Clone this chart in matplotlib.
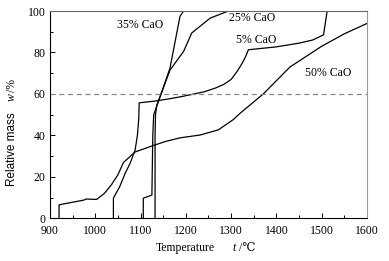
import matplotlib
matplotlib.use("Agg")
import matplotlib.pyplot as plt
from matplotlib.ticker import MultipleLocator

# 50% CaO
t50 = [920, 920, 975, 980, 1003, 1020, 1035, 1050, 1062, 1088, 1120, 1154, 1187, 1232, 1272, 1304, 1320, 1371, 1430, 1500, 1550, 1600]
w50 = [0, 6.5, 8.8, 9.3, 9.1, 12, 16, 21, 26.9, 32, 34.5, 37, 38.8, 40.2, 42.7, 47.5, 50.7, 60, 73, 83, 89, 94]

# 5% CaO
t5 = [1040, 1040, 1054, 1066, 1077, 1088, 1093, 1096, 1097, 1130, 1160, 1190, 1210, 1240, 1265, 1283, 1300, 1313, 1325, 1333, 1338, 1360, 1400, 1450, 1480, 1504, 1512]
w5 = [0, 9.7, 15.3, 21.7, 26.6, 33, 40, 48, 55.7, 56.5, 57.5, 58.7, 59.6, 61, 62.8, 64.5, 67, 70.8, 75, 78.5, 81.3, 81.8, 82.7, 84.5, 86, 88.5, 100]

# 35% CaO
t35 = [1106, 1106, 1125, 1127, 1129, 1147, 1165, 1187, 1195]
w35 = [0, 9.7, 11.2, 40, 50, 61, 72.5, 97.4, 100]

# 25% CaO
t25 = [1132, 1132, 1133, 1136, 1150, 1165, 1195, 1213, 1254, 1294]
w25 = [0, 40, 50, 54.7, 62.8, 71.5, 80.5, 89.4, 96.6, 100]

labels = ["35% CaO", "25% CaO", "5% CaO", "50% CaO"]
label_pos = [(1099, 93.4), (1347, 96.6), (1356, 86), (1515, 70)]

serif = ["Liberation Serif", "DejaVu Serif"]
sans = ["Liberation Sans", "DejaVu Sans"]

fig = plt.figure(figsize=(3.89, 2.61), dpi=100)
ax = fig.add_axes([50/389, 1-218.3/261, (367-50)/389, (218.3-11)/261])

for t, w in [(t50, w50), (t5, w5), (t35, w35), (t25, w25)]:
    ax.plot(t, w, color="black", lw=0.9)

ax.axhline(60, color="#888888", lw=0.9, ls=(0, (4, 3)))

for lab, (x, y) in zip(labels, label_pos):
    ax.text(x, y, lab, ha="center", va="center", fontsize=8.5, family=serif)

ax.set_xlim(900, 1600)
ax.set_ylim(0, 100)
ax.xaxis.set_major_locator(MultipleLocator(100))
ax.xaxis.set_minor_locator(MultipleLocator(50))
ax.yaxis.set_major_locator(MultipleLocator(20))
ax.yaxis.set_minor_locator(MultipleLocator(10))
ax.tick_params(which="both", direction="in", top=False, right=False)
ax.tick_params(which="major", length=3.5, width=0.7, labelsize=8.5)
ax.tick_params(axis="x", which="major", pad=4.5)
ax.tick_params(axis="y", which="major", pad=3)
ax.tick_params(which="minor", length=2, width=0.7)
for lab in ax.get_xticklabels() + ax.get_yticklabels():
    lab.set_family(serif)
ax.spines["right"].set_color("#999999")
ax.spines["top"].set_color("#666666")
for s in ax.spines.values():
    s.set_linewidth(0.8)

fig.text(12/389, 1-149/261, "Relative mass", rotation=90, ha="center", va="center", fontsize=8.5, family=sans)
fig.text(12/389, 1-97/261, "w", rotation=90, ha="center", va="center", fontsize=8.5, family=serif, style="italic")
fig.text(12/389, 1-85/261, "/%", rotation=90, ha="center", va="center", fontsize=8.5, family=serif)
fig.text(185/389, 1-248/261, "Temperature", ha="center", va="center", fontsize=8.5, family=serif)
fig.text(234/389, 1-248/261, "t", ha="center", va="center", fontsize=8.5, family=serif, style="italic")
fig.text(239/389, 1-248/261, "/\u2103", ha="left", va="center", fontsize=8.5, family=serif)

fig.savefig("out.png", dpi=100)
